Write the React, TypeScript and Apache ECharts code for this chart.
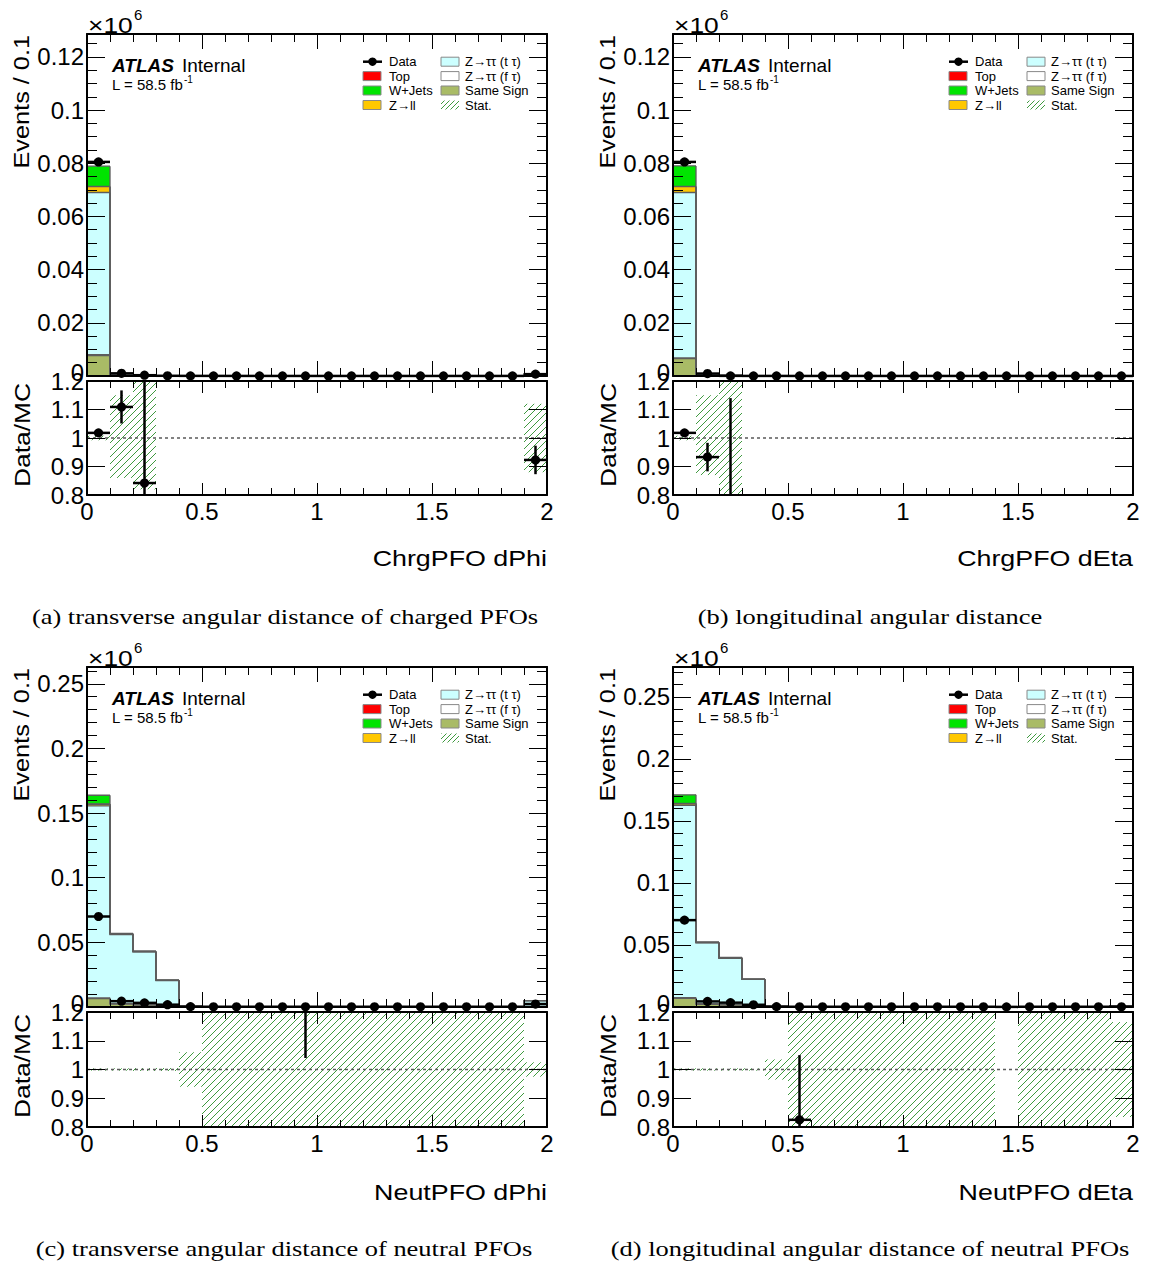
import React, { useEffect, useRef } from "react";
import * as echarts from "echarts";

const FONT = "'Liberation Sans', Arial, Helvetica, sans-serif";
const SERIF = "'Liberation Serif', 'Times New Roman', serif";
const HATCH = "#3f9a3f";

const N_BINS = 20;
const BIN_WIDTH = 0.1;
const binLow = Array.from({ length: N_BINS }, (_, i) => Math.round(i * BIN_WIDTH * 10) / 10);

// stack order (bottom -> top)
const COMPONENTS = [
  { name: "Same Sign", color: "#a9bb66" },
  { name: "Z\u2192\u03c4\u03c4 (f \u03c4)", color: "#ffffff" },
  { name: "Z\u2192\u03c4\u03c4 (t \u03c4)", color: "#ccffff" },
  { name: "Z\u2192ll", color: "#ffc800" },
  { name: "Top", color: "#ff0000" },
  { name: "W+Jets", color: "#00e400" },
];

// ---------- (a) ChrgPFO dPhi ----------
const aSameSign = [0.0077, 0.0001, 0.00004, 0.00002, 0.00001, 0.00001, 0, 0, 0, 0, 0, 0, 0, 0, 0, 0, 0, 0, 0.00001, 0.00005];
const aZttF = [0.0003, 0.00003, 0.00001, 0, 0, 0, 0, 0, 0, 0, 0, 0, 0, 0, 0, 0, 0, 0, 0, 0.00002];
const aZttT = [0.061, 0.0006, 0.0002, 0.00006, 0.00004, 0.00003, 0.00002, 0.00002, 0.00002, 0.00001, 0.00001, 0.00001, 0.00001, 0.00001, 0.00001, 0.00001, 0.00001, 0.00001, 0.00002, 0.0006];
const aZll = [0.0022, 0.00003, 0.00001, 0, 0, 0, 0, 0, 0, 0, 0, 0, 0, 0, 0, 0, 0, 0, 0, 0.00001];
const aTop = [0.0001, 0.00001, 0, 0, 0, 0, 0, 0, 0, 0, 0, 0, 0, 0, 0, 0, 0, 0, 0, 0];
const aWjets = [0.0076, 0.0001, 0.00003, 0.00001, 0, 0, 0, 0, 0, 0, 0, 0, 0, 0, 0, 0, 0, 0, 0, 0.00005];
const aData = [0.0805, 0.001, 0.0003, 0.00008, 0.00005, 0.00004, 0.00003, 0.00003, 0.00002, 0.00002, 0.00002, 0.00002, 0.00002, 0.00002, 0.00002, 0.00002, 0.00002, 0.00002, 0.00003, 0.0007];
const aRatio = [1.018, 1.109, 0.842, null, null, null, null, null, null, null, null, null, null, null, null, null, null, null, null, 0.923];
const aRatioErr = [0.004, 0.058, 0.5, null, null, null, null, null, null, null, null, null, null, null, null, null, null, null, null, 0.05];
const aBandLo = [0.992, 0.86, 0.82, null, null, null, null, null, null, null, null, null, null, null, null, null, null, null, null, 0.88];
const aBandHi = [1.008, 1.15, 1.2, null, null, null, null, null, null, null, null, null, null, null, null, null, null, null, null, 1.12];

// ---------- (b) ChrgPFO dEta ----------
const bSameSign = [0.0065, 0.0001, 0.00004, 0.00002, 0.00001, 0, 0, 0, 0, 0, 0, 0, 0, 0, 0, 0, 0, 0, 0, 0];
const bZttF = [0.0003, 0.00003, 0.00001, 0, 0, 0, 0, 0, 0, 0, 0, 0, 0, 0, 0, 0, 0, 0, 0, 0];
const bZttT = [0.0622, 0.0007, 0.0002, 0.00006, 0.00004, 0.00003, 0.00002, 0.00002, 0.00002, 0.00001, 0.00001, 0.00001, 0.00001, 0.00001, 0.00001, 0.00001, 0.00001, 0.00001, 0.00001, 0.00001];
const bZll = [0.0022, 0.00003, 0.00001, 0, 0, 0, 0, 0, 0, 0, 0, 0, 0, 0, 0, 0, 0, 0, 0, 0];
const bTop = [0.0001, 0.00001, 0, 0, 0, 0, 0, 0, 0, 0, 0, 0, 0, 0, 0, 0, 0, 0, 0, 0];
const bWjets = [0.0077, 0.0001, 0.00003, 0.00001, 0, 0, 0, 0, 0, 0, 0, 0, 0, 0, 0, 0, 0, 0, 0, 0];
const bData = [0.0805, 0.0009, 0.00005, 0.00003, 0.00003, 0.00002, 0.00002, 0.00002, 0.00002, 0.00002, 0.00002, 0.00002, 0.00002, 0.00002, 0.00002, 0.00002, 0.00002, 0.00002, 0.00002, 0.00002];
const bRatio = [1.018, 0.933, 0.7, null, null, null, null, null, null, null, null, null, null, null, null, null, null, null, null, null];
const bRatioErr = [0.004, 0.05, 0.44, null, null, null, null, null, null, null, null, null, null, null, null, null, null, null, null, null];
const bBandLo = [0.992, 0.87, 0.5, null, null, null, null, null, null, null, null, null, null, null, null, null, null, null, null, null];
const bBandHi = [1.008, 1.15, 1.5, null, null, null, null, null, null, null, null, null, null, null, null, null, null, null, null, null];

// ---------- (c) NeutPFO dPhi ----------
const cSameSign = [0.0065, 0.0022, 0.0015, 0.0008, 0.00005, 0.00002, 0.00001, 0, 0, 0, 0, 0, 0, 0, 0, 0, 0, 0, 0, 0.0003];
const cZttF = [0.0006, 0.0004, 0.0003, 0.0002, 0.00002, 0, 0, 0, 0, 0, 0, 0, 0, 0, 0, 0, 0, 0, 0, 0.0002];
const cZttT = [0.1485, 0.0535, 0.0408, 0.0195, 0.0003, 0.00002, 0.00001, 0.00001, 0.00001, 0.00001, 0.00001, 0.00001, 0.00001, 0.00001, 0.00001, 0.00001, 0.00001, 0.00001, 0.00001, 0.0045];
const cZll = [0.0012, 0.0003, 0.0002, 0.0001, 0.00001, 0, 0, 0, 0, 0, 0, 0, 0, 0, 0, 0, 0, 0, 0, 0];
const cTop = [0.0003, 0.0001, 0.0001, 0.00005, 0, 0, 0, 0, 0, 0, 0, 0, 0, 0, 0, 0, 0, 0, 0, 0];
const cWjets = [0.0067, 0.0005, 0.0004, 0.0003, 0.00002, 0, 0, 0, 0, 0, 0, 0, 0, 0, 0, 0, 0, 0, 0, 0];
const cData = [0.07, 0.0045, 0.0032, 0.0018, 0.0003, 0.0002, 0.0002, 0.0002, 0.0002, 0.0002, 0.0002, 0.0002, 0.0002, 0.0002, 0.0002, 0.0002, 0.0002, 0.0002, 0.0002, 0.0023];
const cRatio = [0.43, 0.08, 0.07, 0.09, null, null, null, null, null, 1.6, null, null, null, null, null, null, null, null, null, 0.42];
const cRatioErr = [0.002, 0.005, 0.005, 0.008, null, null, null, null, null, 0.56, null, null, null, null, null, null, null, null, null, 0.05];
const cBandLo = [0.996, 0.996, 0.995, 0.995, 0.94, 0, 0, 0, 0, 0, 0, 0, 0, 0, 0, 0, 0, 0, 0, 0.975];
const cBandHi = [1.004, 1.004, 1.005, 1.005, 1.06, 2, 2, 2, 2, 2, 2, 2, 2, 2, 2, 2, 2, 2, 2, 1.025];

// ---------- (d) NeutPFO dEta ----------
const dSameSign = [0.007, 0.0022, 0.0016, 0.0009, 0.00005, 0.00002, 0.00001, 0, 0, 0, 0, 0, 0, 0, 0, 0, 0, 0, 0, 0.0001];
const dZttF = [0.0006, 0.0004, 0.0003, 0.0002, 0.00002, 0, 0, 0, 0, 0, 0, 0, 0, 0, 0, 0, 0, 0, 0, 0];
const dZttT = [0.155, 0.049, 0.0374, 0.0211, 0.0004, 0.00002, 0.00001, 0.00001, 0.00001, 0.00001, 0.00001, 0.00001, 0.00001, 0.00001, 0, 0.00001, 0.00001, 0.00001, 0.00001, 0.0008];
const dZll = [0.0012, 0.0003, 0.0002, 0.0001, 0, 0, 0, 0, 0, 0, 0, 0, 0, 0, 0, 0, 0, 0, 0, 0];
const dTop = [0.0003, 0.0001, 0, 0, 0, 0, 0, 0, 0, 0, 0, 0, 0, 0, 0, 0, 0, 0, 0, 0];
const dWjets = [0.0069, 0.0004, 0.0005, 0.0003, 0, 0, 0, 0, 0, 0, 0, 0, 0, 0, 0, 0, 0, 0, 0, 0];
const dData = [0.07, 0.0045, 0.0035, 0.0018, 0.0003, 0.0002, 0.0002, 0.0002, 0.0002, 0.0002, 0.0002, 0.0002, 0.0002, 0.0002, 0.0001, 0.0002, 0.0002, 0.0002, 0.0002, 0.0002];
const dRatio = [0.41, 0.086, 0.088, 0.08, null, 0.825, null, null, null, null, null, null, null, null, null, null, null, null, null, null];
const dRatioErr = [0.002, 0.005, 0.005, 0.008, null, 0.225, null, null, null, null, null, null, null, null, null, null, null, null, null, null];
const dBandLo = [0.996, 0.996, 0.996, 0.996, 0.965, 0, 0, 0, 0, 0, 0, 0, 0, 0, null, 0, 0, 0, 0, 0.835];
const dBandHi = [1.004, 1.004, 1.004, 1.004, 1.035, 2, 2, 2, 2, 2, 2, 2, 2, 2, null, 2, 2, 2, 2, 1.165];

const RATIO_MIN = 0.8;
const RATIO_MAX = 1.2;

const PANELS = [
  {
    xTitle: "ChrgPFO dPhi",
    caption: "(a) transverse angular distance of charged PFOs",
    stack: [aSameSign, aZttF, aZttT, aZll, aTop, aWjets],
    data: aData, ratio: aRatio, ratioErr: aRatioErr, bandLo: aBandLo, bandHi: aBandHi,
    yMax: 0.1286, yInterval: 0.02, yMinorSplit: 4,
  },
  {
    xTitle: "ChrgPFO dEta",
    caption: "(b) longitudinal angular distance",
    stack: [bSameSign, bZttF, bZttT, bZll, bTop, bWjets],
    data: bData, ratio: bRatio, ratioErr: bRatioErr, bandLo: bBandLo, bandHi: bBandHi,
    yMax: 0.1286, yInterval: 0.02, yMinorSplit: 4,
  },
  {
    xTitle: "NeutPFO dPhi",
    caption: "(c) transverse angular distance of neutral PFOs",
    stack: [cSameSign, cZttF, cZttT, cZll, cTop, cWjets],
    data: cData, ratio: cRatio, ratioErr: cRatioErr, bandLo: cBandLo, bandHi: cBandHi,
    yMax: 0.263, yInterval: 0.05, yMinorSplit: 5,
  },
  {
    xTitle: "NeutPFO dEta",
    caption: "(d) longitudinal angular distance of neutral PFOs",
    stack: [dSameSign, dZttF, dZttT, dZll, dTop, dWjets],
    data: dData, ratio: dRatio, ratioErr: dRatioErr, bandLo: dBandLo, bandHi: dBandHi,
    yMax: 0.274, yInterval: 0.05, yMinorSplit: 5,
  },
];

const LAYOUT = [
  { left: 87, width: 460, mainTop: 34, mainH: 342, ratioTop: 381, ratioH: 114, titleY: 558, capX: 285, capY: 617 },
  { left: 673, width: 460, mainTop: 34, mainH: 342, ratioTop: 381, ratioH: 114, titleY: 558, capX: 870, capY: 617 },
  { left: 87, width: 460, mainTop: 667, mainH: 340, ratioTop: 1012, ratioH: 115, titleY: 1192, capX: 284, capY: 1249 },
  { left: 673, width: 460, mainTop: 667, mainH: 340, ratioTop: 1012, ratioH: 115, titleY: 1192, capX: 870, capY: 1249 },
];

function hatchLines(x0: number, y0: number, x1: number, y1: number, step: number, style: any) {
  const out: any[] = [];
  const cStart = Math.ceil((x0 + y0) / step) * step;
  for (let c = cStart; c <= x1 + y1; c += step) {
    const ya = Math.max(y0, c - x1);
    const yb = Math.min(y1, c - x0);
    if (yb - ya > 0.2) {
      out.push({ type: "line", shape: { x1: c - ya, y1: ya, x2: c - yb, y2: yb }, style });
    }
  }
  return out;
}

const LABEL_RICH = {
  up: { fontSize: 24, fontFamily: FONT, color: "#000", padding: [0, 0, 8, 0] },
};

function fmt(v: number) {
  return String(Number(v.toFixed(4)));
}

function xAx(gridIndex: number, position: string, labels: boolean, tickLen: number, minorLen: number) {
  return {
    type: "value", gridIndex, position, min: 0, max: 2, interval: 0.5, z: 10,
    axisLine: { show: true, onZero: false, lineStyle: { color: "#000", width: 2 } },
    axisTick: { show: true, inside: true, length: tickLen, lineStyle: { color: "#000", width: 1 } },
    minorTick: { show: true, splitNumber: 5, length: minorLen, lineStyle: { color: "#000", width: 1 } },
    splitLine: { show: false }, minorSplitLine: { show: false },
    axisLabel: { show: labels, color: "#000", fontSize: 24, fontFamily: FONT, margin: 4, formatter: fmt },
  };
}

function yAx(gridIndex: number, position: string, min: number, max: number, interval: number,
  minorSplit: number, labels: boolean, tickLen: number, minorLen: number, hideMax: boolean, isRatio: boolean) {
  const formatter = (v: number) => {
    const s = fmt(v);
    if (!isRatio && Math.abs(v - min) < 1e-9) return "{up|" + s + "}";
    return s;
  };
  return {
    type: "value", gridIndex, position, min, max, interval, z: 10,
    axisLine: { show: true, onZero: false, lineStyle: { color: "#000", width: 2 } },
    axisTick: { show: true, inside: true, length: tickLen, lineStyle: { color: "#000", width: 1 } },
    minorTick: { show: minorSplit > 0, splitNumber: minorSplit || 5, length: minorLen, lineStyle: { color: "#000", width: 1 } },
    splitLine: { show: false }, minorSplitLine: { show: false },
    axisLabel: {
      show: labels, color: "#000", fontSize: 24, fontFamily: FONT, margin: 3, showMaxLabel: !hideMax,
      formatter, rich: LABEL_RICH,
    },
  };
}

function txt(x: number, y: number, text: string, o: any = {}) {
  const { fontSize = 13, fontFamily = FONT, align = "left", vAlign = "middle", fontWeight = "normal",
    fontStyle = "normal", scaleX = 1, rotation = 0 } = o;
  return {
    type: "text", x, y, z: 20, scaleX, rotation, silent: true,
    style: {
      text, fontSize, fontFamily, fontWeight, fontStyle, fill: "#000",
      align, verticalAlign: vAlign, textAlign: align, textVerticalAlign: vAlign,
    },
  };
}

function legendEls(ox: number, oy: number) {
  const els: any[] = [];
  const rowY = [27.7, 42.1, 56.5, 71].map((d) => oy + d);
  const lx0 = ox + 276, lw = 18, ltx = ox + 302;
  const rx0 = ox + 354, rtx = ox + 378;
  els.push({ type: "line", z: 20, shape: { x1: lx0, y1: rowY[0], x2: lx0 + 19, y2: rowY[0] }, style: { stroke: "#000", lineWidth: 2.5 } });
  els.push({ type: "circle", z: 21, shape: { cx: lx0 + 9.5, cy: rowY[0], r: 4.2 }, style: { fill: "#000" } });
  els.push(txt(ltx, rowY[0], "Data"));
  const box = (x: number, y: number, color: string) => ({
    type: "rect", z: 20, shape: { x, y: y - 4.5, width: lw, height: 9 }, style: { fill: color, stroke: "#888", lineWidth: 1 },
  });
  const leftEntries = [COMPONENTS[4], COMPONENTS[5], COMPONENTS[3]];
  leftEntries.forEach((c, k) => {
    els.push(box(lx0, rowY[k + 1], c.color));
    els.push(txt(ltx, rowY[k + 1], c.name));
  });
  const rightEntries = [COMPONENTS[2], COMPONENTS[1], COMPONENTS[0]];
  rightEntries.forEach((c, k) => {
    els.push(box(rx0, rowY[k], c.color));
    els.push(txt(rtx, rowY[k], c.name));
  });
  els.push({
    type: "group", z: 20,
    children: hatchLines(rx0, rowY[3] - 4.5, rx0 + lw, rowY[3] + 4.5, 5, { stroke: HATCH, lineWidth: 1 }),
  });
  els.push(txt(rtx, rowY[3], "Stat."));
  return els;
}

function buildOption() {
  const grid: any[] = [];
  const xAxis: any[] = [];
  const yAxis: any[] = [];
  const series: any[] = [];
  const graphic: any[] = [];

  PANELS.forEach((p, pi) => {
    const L = LAYOUT[pi];
    const gMain = pi * 2;
    const gRatio = pi * 2 + 1;
    grid.push({ left: L.left, top: L.mainTop, width: L.width, height: L.mainH, show: false });
    grid.push({ left: L.left, top: L.ratioTop, width: L.width, height: L.ratioH, show: false });

    xAxis.push(xAx(gMain, "bottom", false, 15, 8), xAx(gMain, "top", false, 15, 8));
    xAxis.push(xAx(gRatio, "bottom", true, 12, 7), xAx(gRatio, "top", false, 12, 7));
    yAxis.push(
      yAx(gMain, "left", 0, p.yMax, p.yInterval, p.yMinorSplit, true, 18, 10, true, false),
      yAx(gMain, "right", 0, p.yMax, p.yInterval, p.yMinorSplit, false, 18, 10, true, false),
    );
    yAxis.push(
      yAx(gRatio, "left", RATIO_MIN, RATIO_MAX, 0.1, 0, true, 18, 0, false, true),
      yAx(gRatio, "right", RATIO_MIN, RATIO_MAX, 0.1, 0, false, 18, 0, false, true),
    );

    const tops = p.stack.map((_, k) =>
      binLow.map((__, i) => p.stack.slice(0, k + 1).reduce((s, arr) => s + arr[i], 0)),
    );
    const nComp = p.stack.length;

    series.push({
      type: "custom", xAxisIndex: 2 * gMain, yAxisIndex: 2 * gMain, z: 2, silent: true,
      data: binLow.map((lo, i) => [lo, lo + BIN_WIDTH, tops[nComp - 1][i]]),
      encode: { x: [0, 1], y: [2] },
      renderItem: (params: any, api: any) => {
        const i = params.dataIndex;
        const lo = api.value(0), hi = api.value(1);
        const children: any[] = [];
        let base = 0;
        COMPONENTS.forEach((c, k) => {
          const t = tops[k][i];
          if (t > base) {
            const pA = api.coord([lo, base]);
            const pB = api.coord([hi, t]);
            children.push({
              type: "rect",
              shape: { x: pA[0], y: pB[1], width: pB[0] - pA[0], height: pA[1] - pB[1] },
              style: { fill: c.color },
            });
          }
          base = t;
        });
        COMPONENTS.forEach((c, k) => {
          const t = tops[k][i];
          const prev = i > 0 ? tops[k][i - 1] : 0;
          const pP = api.coord([lo, prev]);
          const pT = api.coord([lo, t]);
          const pR = api.coord([hi, t]);
          children.push({
            type: "polyline", shape: { points: [pP, pT, pR] },
            style: { stroke: "#5c5c5c", lineWidth: 1.3, fill: "none" },
          });
        });
        return { type: "group", children };
      },
    });

    series.push({
      type: "custom", xAxisIndex: 2 * gMain, yAxisIndex: 2 * gMain, z: 5, silent: true,
      data: binLow.map((lo, i) => [lo, lo + BIN_WIDTH, p.data[i]]),
      encode: { x: [0, 1], y: [2] },
      renderItem: (params: any, api: any) => {
        const lo = api.value(0), hi = api.value(1), v = api.value(2);
        const pL = api.coord([lo, v]);
        const pR = api.coord([hi, v]);
        const pC = api.coord([(lo + hi) / 2, v]);
        return {
          type: "group",
          children: [
            { type: "line", shape: { x1: pL[0], y1: pL[1], x2: pR[0], y2: pR[1] }, style: { stroke: "#000", lineWidth: 2.5 } },
            { type: "circle", shape: { cx: pC[0], cy: pC[1], r: 4.6 }, style: { fill: "#000" } },
          ],
        };
      },
    });

    const bandData: any[] = [];
    binLow.forEach((lo, i) => {
      if (p.bandLo[i] != null && p.bandHi[i] != null) bandData.push([lo, lo + BIN_WIDTH, p.bandLo[i], p.bandHi[i]]);
    });
    series.push({
      type: "custom", xAxisIndex: 2 * gRatio, yAxisIndex: 2 * gRatio, z: 2, silent: true,
      data: bandData,
      encode: { x: [0, 1], y: [2, 3] },
      renderItem: (params: any, api: any) => {
        const lo = api.value(0), hi = api.value(1);
        const bl = Math.max(api.value(2), RATIO_MIN);
        const bh = Math.min(api.value(3), RATIO_MAX);
        if (bh <= bl) return null;
        const pA = api.coord([lo, bh]);
        const pB = api.coord([hi, bl]);
        return {
          type: "group",
          children: hatchLines(pA[0], pA[1], pB[0], pB[1], 7, { stroke: HATCH, lineWidth: 1 }),
        };
      },
    });

    series.push({
      type: "line", xAxisIndex: 2 * gRatio, yAxisIndex: 2 * gRatio, z: 3, silent: true,
      data: [[0, 1], [2, 1]], symbol: "none",
      lineStyle: { color: "#5a5a5a", width: 1.4, type: [3, 3] },
    });

    const rData: any[] = [];
    binLow.forEach((lo, i) => {
      if (p.ratio[i] != null) rData.push([lo, lo + BIN_WIDTH, p.ratio[i], p.ratioErr[i]]);
    });
    series.push({
      type: "custom", xAxisIndex: 2 * gRatio, yAxisIndex: 2 * gRatio, z: 5, silent: true,
      data: rData,
      encode: { x: [0, 1], y: [2] },
      renderItem: (params: any, api: any) => {
        const lo = api.value(0), hi = api.value(1), v = api.value(2), e = api.value(3);
        const mid = (lo + hi) / 2;
        const children: any[] = [];
        const vLo = Math.max(v - e, RATIO_MIN);
        const vHi = Math.min(v + e, RATIO_MAX);
        if (vHi > vLo) {
          const a = api.coord([mid, vLo]);
          const b = api.coord([mid, vHi]);
          children.push({ type: "line", shape: { x1: a[0], y1: a[1], x2: b[0], y2: b[1] }, style: { stroke: "#000", lineWidth: 2.5 } });
        }
        if (v >= RATIO_MIN && v <= RATIO_MAX) {
          const pL = api.coord([lo, v]);
          const pR = api.coord([hi, v]);
          const pC = api.coord([mid, v]);
          children.push({ type: "line", shape: { x1: pL[0], y1: pL[1], x2: pR[0], y2: pR[1] }, style: { stroke: "#000", lineWidth: 2.5 } });
          children.push({ type: "circle", shape: { cx: pC[0], cy: pC[1], r: 4.6 }, style: { fill: "#000" } });
        }
        return { type: "group", children };
      },
    });

    const ox = L.left, oy = L.mainTop;
    graphic.push(txt(ox + 1, oy - 9, "\u00d710", { fontSize: 22, scaleX: 1.2 }));
    graphic.push(txt(ox + 47, oy - 20, "6", { fontSize: 15 }));
    graphic.push(txt(ox - 65, oy + 1, "Events / 0.1", { fontSize: 22, scaleX: 1.15, rotation: Math.PI / 2, align: "right" }));
    graphic.push(txt(ox - 65, L.ratioTop + 54, "Data/MC", { fontSize: 22, scaleX: 1.2, rotation: Math.PI / 2, align: "center" }));
    graphic.push(txt(ox + L.width, L.titleY, p.xTitle, { fontSize: 22, scaleX: 1.22, align: "right" }));
    graphic.push(txt(L.capX, L.capY, p.caption, { fontSize: 21, fontFamily: SERIF, scaleX: 1.26, align: "center" }));
    graphic.push(txt(ox + 25, oy + 31, "ATLAS", { fontSize: 19, fontWeight: "bold", fontStyle: "italic" }));
    graphic.push(txt(ox + 95, oy + 31, "Internal", { fontSize: 19 }));
    graphic.push(txt(ox + 25, oy + 50, "L = 58.5 fb", { fontSize: 15 }));
    graphic.push(txt(ox + 97, oy + 45, "-1", { fontSize: 10 }));
    legendEls(ox, oy).forEach((el) => graphic.push(el));
  });

  return { animation: false, backgroundColor: "#fff", grid, xAxis, yAxis, series, graphic };
}

export default function App() {
  const ref = useRef<HTMLDivElement>(null);
  useEffect(() => {
    if (!ref.current) return;
    const chart = echarts.init(ref.current, undefined, { renderer: "svg" });
    chart.setOption(buildOption() as any);
    return () => chart.dispose();
  }, []);
  return (
    <div
      ref={ref}
      style={{ position: "absolute", left: 0, top: 0, width: 1149, height: 1263, background: "#fff" }}
    />
  );
}
